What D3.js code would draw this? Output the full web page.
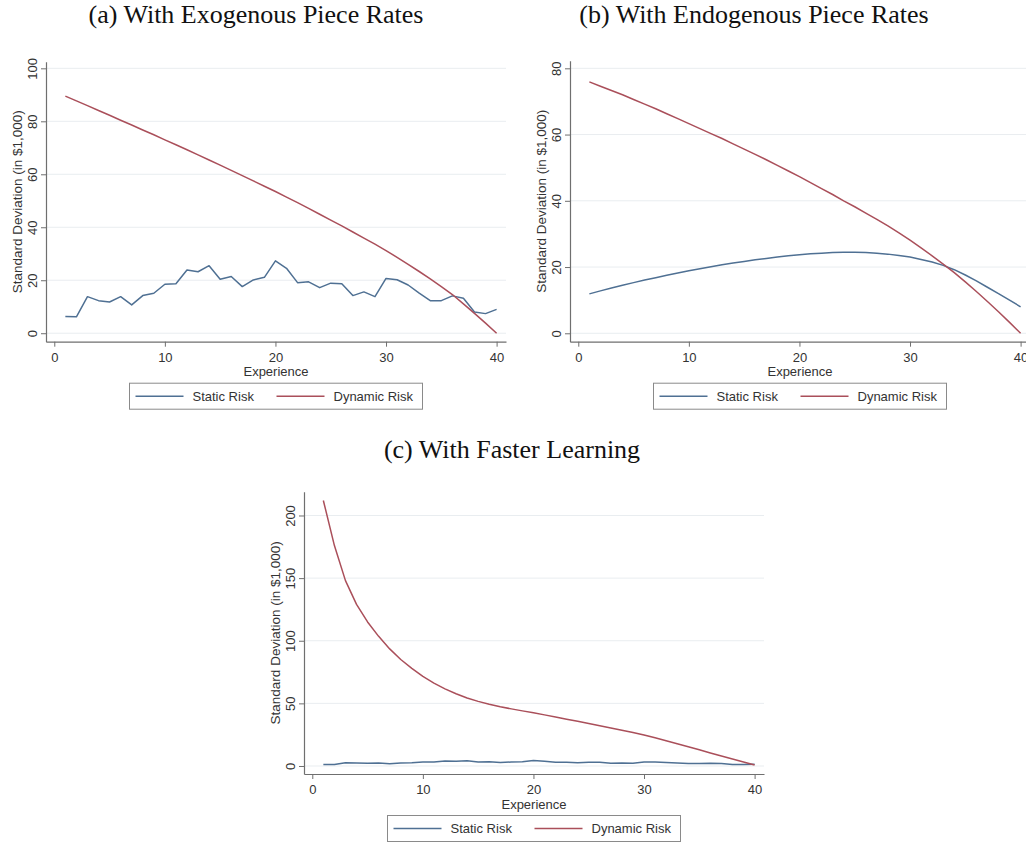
<!DOCTYPE html>
<html>
<head>
<meta charset="utf-8">
<script src="https://cdn.jsdelivr.net/npm/d3@7"></script>
<style>
  body { margin: 0; background: #ffffff; }
  svg { display: block; }
</style>
</head>
<body>
<svg id="chart" width="1026" height="844"></svg>
<script>
// Years of experience shared by every panel
const experience = [1, 2, 3, 4, 5, 6, 7, 8, 9, 10, 11, 12, 13, 14, 15, 16, 17, 18, 19, 20,
                    21, 22, 23, 24, 25, 26, 27, 28, 29, 30, 31, 32, 33, 34, 35, 36, 37, 38, 39, 40];

// (a) exogenous piece rates
const staticRiskExogenous = [6.3, 6.2, 13.8, 12.3, 11.8, 13.8, 10.7, 14.2, 15.1, 18.5,
                             18.7, 23.9, 23.2, 25.5, 20.4, 21.4, 17.6, 20.1, 21.1, 27.3,
                             24.5, 19.1, 19.4, 17.2, 18.9, 18.7, 14.2, 15.6, 13.8, 20.7,
                             20.2, 18.2, 15.1, 12.3, 12.3, 14.1, 13.2, 8.0, 7.4, 9.0];
const dynamicRiskExogenous = [89.5, 87.7, 85.9, 84.1, 82.3, 80.4, 78.6, 76.7, 74.9, 73.0,
                              71.15, 69.25, 67.35, 65.4, 63.45, 61.5, 59.5, 57.5, 55.5, 53.5,
                              51.4, 49.3, 47.1, 44.9, 42.7, 40.5, 38.2, 35.9, 33.6, 31.2,
                              28.65, 26.0, 23.3, 20.5, 17.6, 14.6, 11.1, 7.5, 3.8, 0.0];

// (b) endogenous piece rates
const staticRiskEndogenous = [11.9, 12.8, 13.7, 14.5, 15.3, 16.1, 16.8, 17.5, 18.2, 18.9,
                              19.5, 20.1, 20.7, 21.2, 21.7, 22.2, 22.6, 23.0, 23.4, 23.7,
                              24.0, 24.2, 24.4, 24.5, 24.5, 24.4, 24.2, 23.9, 23.5, 23.0,
                              22.3, 21.5, 20.5, 19.2, 17.6, 15.8, 13.9, 12.0, 10.0, 8.0];
const dynamicRiskEndogenous = [75.9, 74.6, 73.3, 72.0, 70.6, 69.2, 67.8, 66.3, 64.8, 63.3,
                               61.8, 60.3, 58.8, 57.2, 55.6, 54.0, 52.4, 50.7, 49.0, 47.3,
                               45.5, 43.7, 41.9, 40.0, 38.2, 36.3, 34.4, 32.4, 30.3, 28.1,
                               25.8, 23.4, 20.9, 18.3, 15.5, 12.6, 9.6, 6.5, 3.3, 0.0];

// (c) faster learning
const staticRiskFaster = [1.2, 1.2, 2.6, 2.3, 2.1, 2.4, 1.8, 2.4, 2.6, 3.1,
                          3.1, 3.9, 3.8, 4.1, 3.2, 3.4, 2.8, 3.2, 3.4, 4.3,
                          3.8, 2.9, 3.0, 2.6, 2.9, 2.9, 2.2, 2.4, 2.1, 3.2,
                          3.1, 2.8, 2.3, 1.9, 1.9, 2.2, 2.0, 1.2, 1.1, 1.3];
const dynamicRiskFaster = [212, 176, 148, 129, 115, 103.5, 93.5, 85, 78, 71.5,
                           66.2, 61.6, 57.7, 54.3, 51.6, 49.3, 47.3, 45.6, 44.0, 42.5,
                           40.8, 39.1, 37.4, 35.7, 34.0, 32.2, 30.4, 28.6, 26.7, 24.8,
                           22.5, 20.2, 17.8, 15.4, 12.9, 10.4, 8.0, 5.6, 3.2, 0.8];

// Axis ticks and labels
const xTickValues = [0, 10, 20, 30, 40];
const yTicksExogenous = [0, 20, 40, 60, 80, 100];
const yTicksEndogenous = [0, 20, 40, 60, 80];
const yTicksFaster = [0, 50, 100, 150, 200];
const seriesNames = ["Static Risk", "Dynamic Risk"];
const panelTitles = ["(a) With Exogenous Piece Rates", "(b) With Endogenous Piece Rates", "(c) With Faster Learning"];
const xAxisTitle = "Experience";
const yAxisTitle = "Standard Deviation (in $1,000)";

// Styling
const seriesColors = ["#4f7093", "#aa4f5a"];
const axisColor = "#6f6f6f";
const textColor = "#333333";
const gridColor = "#e9edf0";
const sansFont = "'Liberation Sans', Arial, Helvetica, sans-serif";
const serifFont = "'Liberation Serif', 'Times New Roman', Times, serif";
const plotWidth = 460;
const xDomain = [-0.75, 40.85];

const panels = [
  { title: panelTitles[0], series: [staticRiskExogenous, dynamicRiskExogenous], yTicks: yTicksExogenous,
    yDomain: [-3.2, 102.5], left: 46, top: 61.7, bottom: 341.7, titleX: 256, titleY: 23 },
  { title: panelTitles[1], series: [staticRiskEndogenous, dynamicRiskEndogenous], yTicks: yTicksEndogenous,
    yDomain: [-2.54, 82.3], left: 570, top: 60.7, bottom: 341.7, titleX: 754, titleY: 23 },
  { title: panelTitles[2], series: [staticRiskFaster, dynamicRiskFaster], yTicks: yTicksFaster,
    yDomain: [-6.4, 219], left: 304, top: 491.7, bottom: 774, titleX: 512, titleY: 458 }
];

const svg = d3.select("#chart");
svg.append("rect").attr("width", 1026).attr("height", 844).attr("fill", "#ffffff");

panels.forEach(p => {
  const g = svg.append("g");
  const x = d3.scaleLinear().domain(xDomain).range([p.left, p.left + plotWidth]);
  const y = d3.scaleLinear().domain(p.yDomain).range([p.bottom, p.top]);
  const right = p.left + plotWidth;
  const centerX = (p.left + right) / 2;

  // Panel title
  g.append("text")
    .attr("x", p.titleX).attr("y", p.titleY)
    .attr("text-anchor", "middle")
    .style("font-family", serifFont).style("font-size", "26px")
    .attr("fill", "#111111")
    .text(p.title);

  // Horizontal gridlines
  g.append("g").selectAll("line").data(p.yTicks).join("line")
    .attr("x1", p.left).attr("x2", right)
    .attr("y1", d => y(d)).attr("y2", d => y(d))
    .attr("stroke", gridColor).attr("stroke-width", 1);

  // Series lines
  p.series.forEach((vals, i) => {
    const line = d3.line()
      .x((d, k) => x(experience[k]))
      .y(d => y(d));
    g.append("path").datum(vals)
      .attr("d", line)
      .attr("fill", "none")
      .attr("stroke", seriesColors[i])
      .attr("stroke-width", 1.5)
      .attr("stroke-linejoin", "round");
  });

  // X axis
  const xAxis = g.append("g")
    .attr("transform", `translate(0,${p.bottom})`)
    .call(d3.axisBottom(x).tickValues(xTickValues).tickSize(5).tickSizeOuter(0).tickPadding(6));
  xAxis.attr("color", axisColor);
  xAxis.select(".domain").attr("stroke-width", 1.2);
  xAxis.selectAll("text")
    .style("font-family", sansFont).style("font-size", "13px")
    .attr("fill", textColor);

  // Y axis with rotated tick labels
  const yAxis = g.append("g")
    .attr("transform", `translate(${p.left},0)`)
    .call(d3.axisLeft(y).tickValues(p.yTicks).tickSize(5).tickSizeOuter(0));
  yAxis.attr("color", axisColor);
  yAxis.select(".domain").attr("stroke-width", 1.2);
  yAxis.selectAll("text")
    .attr("x", 0).attr("dy", "0.35em")
    .attr("text-anchor", "middle")
    .attr("transform", "translate(-14,0) rotate(-90)")
    .style("font-family", sansFont).style("font-size", "13px")
    .attr("fill", textColor);

  // Axis titles
  g.append("text")
    .attr("x", centerX).attr("y", p.bottom + 34.5)
    .attr("text-anchor", "middle")
    .style("font-family", sansFont).style("font-size", "13px")
    .attr("fill", textColor)
    .text(xAxisTitle);

  g.append("text")
    .attr("transform", `translate(${p.left - 29},${(p.top + p.bottom) / 2}) rotate(-90)`)
    .attr("text-anchor", "middle").attr("dy", "0.35em")
    .style("font-family", sansFont).style("font-size", "13.5px")
    .attr("fill", textColor)
    .text(yAxisTitle);

  // Legend
  const legendW = 293, legendH = 26;
  const lx = centerX - legendW / 2, ly = p.bottom + 41.5;
  const legend = g.append("g").attr("transform", `translate(${lx},${ly})`);
  legend.append("rect")
    .attr("x", 0).attr("y", 0).attr("width", legendW).attr("height", legendH)
    .attr("fill", "#ffffff").attr("stroke", "#8a8a8a").attr("stroke-width", 1);
  const itemOffsets = [6, 147];
  seriesNames.forEach((name, i) => {
    const ox = itemOffsets[i];
    legend.append("line")
      .attr("x1", ox).attr("x2", ox + 48)
      .attr("y1", legendH / 2).attr("y2", legendH / 2)
      .attr("stroke", seriesColors[i]).attr("stroke-width", 1.5);
    legend.append("text")
      .attr("x", ox + 57).attr("y", legendH / 2).attr("dy", "0.36em")
      .style("font-family", sansFont).style("font-size", "13px")
      .attr("fill", textColor)
      .text(name);
  });
});
</script>
</body>
</html>
